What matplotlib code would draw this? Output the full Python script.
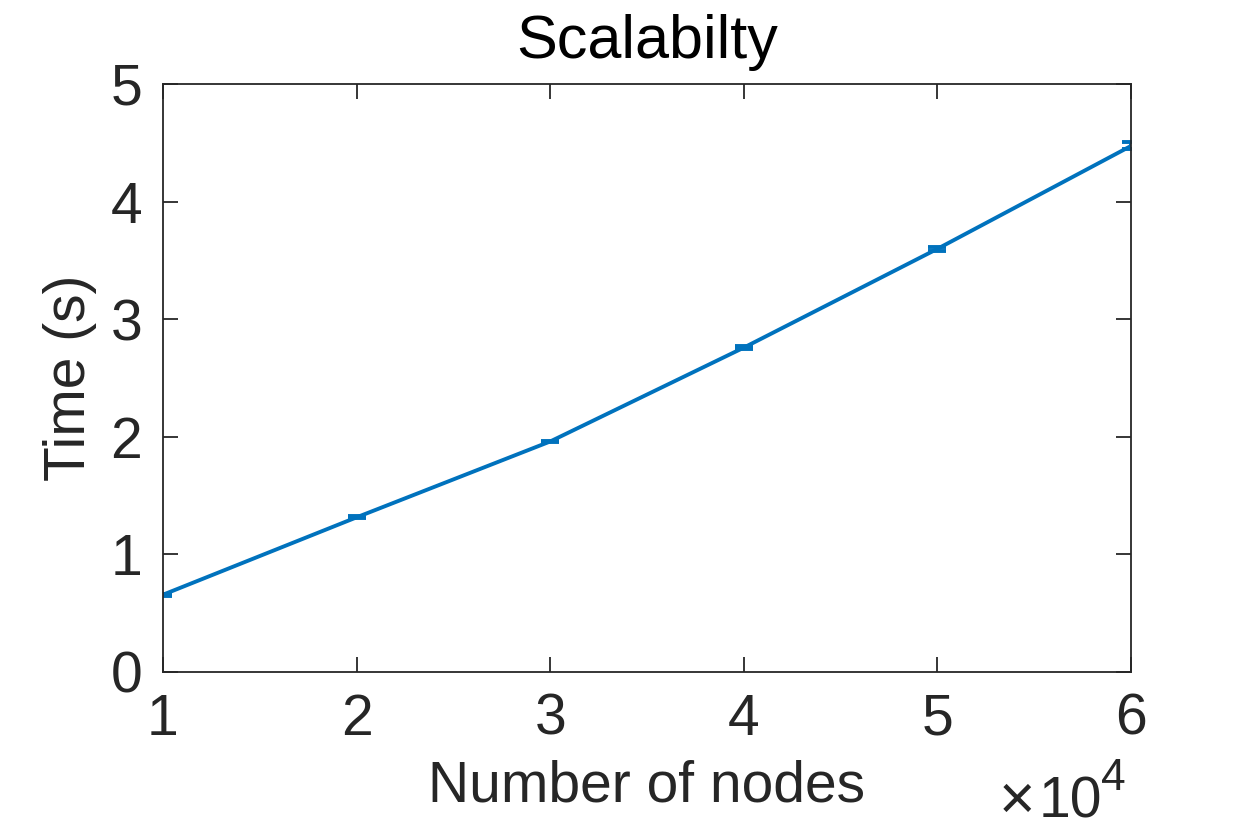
import matplotlib
matplotlib.use("Agg")
import matplotlib.pyplot as plt

nodes = [10000, 20000, 30000, 40000, 50000, 60000]
times = [0.657, 1.315, 1.960, 2.758, 3.598, 4.473]
errors = [0.008, 0.008, 0.008, 0.012, 0.015, 0.03]
x_ticks = [1, 2, 3, 4, 5, 6]
y_ticks = [0, 1, 2, 3, 4, 5]

plt.rcParams['font.family'] = ['Liberation Sans', 'DejaVu Sans']

dark = '#262626'
blue = '#0072BD'
fs = 41

fig = plt.figure(figsize=(12.5, 8.33), dpi=100)
ax = fig.add_axes([0.1304, 0.1933, 0.7744, 0.7059])

ax.errorbar(nodes, times, yerr=errors, color=blue, linewidth=2.8,
            capsize=6.8, capthick=2.8, elinewidth=2.8)

ax.set_xlim(10000, 60000)
ax.set_ylim(0, 5)
ax.set_xticks([v * 10000 for v in x_ticks])
ax.set_xticklabels([str(v) for v in x_ticks])
ax.set_yticks(y_ticks)
ax.set_yticklabels([str(v) for v in y_ticks])

ax.tick_params(direction='in', length=11, width=1.3, colors=dark,
               labelsize=fs, top=True, right=True)
ax.tick_params(axis='x', pad=15)
ax.tick_params(axis='y', pad=15)
for s in ax.spines.values():
    s.set_color(dark)
    s.set_linewidth(1.3)

ax.set_xlabel('Number of nodes', fontsize=fs, color=dark, labelpad=9)
ax.set_ylabel('Time (s)', fontsize=fs, color=dark, labelpad=10)
ax.set_title('Scalabilty', fontsize=44, color='black', pad=19)

# x-axis scale factor (x 10^4)
fig.text(1035 / 1250, 1 - 819 / 833, '\u00d7', ha='right', va='baseline',
         fontsize=45, color=dark)
fig.text(1039 / 1250, 1 - 818 / 833, '10', ha='left', va='baseline',
         fontsize=fs, color=dark)
fig.text(1101 / 1250, 1 - 790 / 833, '4', ha='left', va='baseline',
         fontsize=32, color=dark)

fig.savefig('out.png', dpi=100)
